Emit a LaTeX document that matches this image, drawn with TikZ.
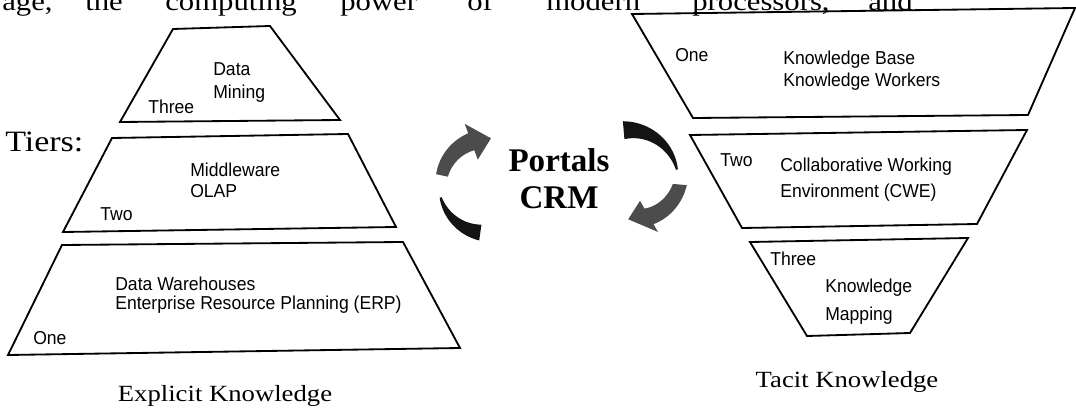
\documentclass[tikz,border=0pt]{standalone}
\usepackage{fontspec}
\setmainfont{Liberation Serif}
\setsansfont{Liberation Sans}
\newfontfamily\wideserif[FakeStretch=1.15]{Liberation Serif}
\newfontfamily\labelsans[FakeStretch=0.94]{Liberation Sans}
\usetikzlibrary{calc}
\tikzset{
  tier/.style={line width=1.3pt, line join=miter},
  lbl/.style={anchor=base west, inner sep=0pt, font=\labelsans\fontsize{13.3}{15}\selectfont},
  capt/.style={anchor=base, inner sep=0pt, font=\wideserif\fontsize{16.5}{19}\selectfont},
  bodytext/.style={anchor=base west, inner sep=0pt, font=\wideserif\fontsize{19}{22}\selectfont},
  tierstext/.style={anchor=base west, inner sep=0pt, font=\wideserif\fontsize{21}{24}\selectfont},
  portal/.style={anchor=base, inner sep=0pt, font=\bfseries\fontsize{23.5}{28}\selectfont},
  grayarrow/.style={fill=black!70},
  blackarrow/.style={fill=black!92},
}
\begin{document}
\begin{tikzpicture}[x=0.025cm, y=0.025cm]
\useasboundingbox (0,0) rectangle (1076,415);
\clip (0,0) rectangle (1076,415);

% cut-off line of page text at the top
\node[bodytext] (w1) at (2,404) {age,};
\node[bodytext] (w2) at (85,404) {the};
\node[bodytext] (w3) at (165,404) {computing};
\node[bodytext] (w4) at (340,404) {power};
\node[bodytext] (w5) at (467,404) {of};
\node[bodytext] (w6) at (546,404) {modern};
\node[bodytext] (w7) at (692,404) {processors,};
\node[bodytext] (w8) at (868,404) {and};

% ---- Explicit knowledge pyramid ----
\draw[tier] (173,386) -- (270,389) -- (340,295) -- (120,293) -- cycle;
\draw[tier] (112,277) -- (348,281) -- (396,188) -- (63,183) -- cycle;
\draw[tier] (62,170) -- (403,173) -- (460,67) -- (8,60) -- cycle;

\node[lbl] (l3a) at (213,339) {Data};
\node[lbl] (l3b) at (213,316) {Mining};
\node[lbl] (l3n) at (148,301) {Three};
\node[lbl] (l2a) at (190,238) {Middleware};
\node[lbl] (l2b) at (190,217) {OLAP};
\node[lbl] (l2n) at (100,195) {Two};
\node[lbl] (l1a) at (115,125) {Data Warehouses};
\node[lbl] (l1b) at (115,106) {Enterprise Resource Planning (ERP)};
\node[lbl] (l1n) at (33,71) {One};

\node[tierstext] (tiers) at (5,263) {Tiers:};
\node[capt] (explicit) at (225,14) {Explicit Knowledge};

% ---- Tacit knowledge pyramid ----
\draw[tier] (632,401) -- (1075,407) -- (1028,300) -- (693,297) -- cycle;
\draw[tier] (690,280) -- (1027,285) -- (977,191) -- (742,187) -- cycle;
\draw[tier] (750,173) -- (968,177) -- (910,82) -- (807,79) -- cycle;

\node[lbl] (r1n) at (675,353) {One};
\node[lbl] (r1a) at (783,350) {Knowledge Base};
\node[lbl] (r1b) at (783,328) {Knowledge Workers};
\node[lbl] (r2n) at (720,248) {Two};
\node[lbl] (r2a) at (780,243) {Collaborative Working};
\node[lbl] (r2b) at (780,218) {Environment (CWE)};
\node[lbl] (r3n) at (770,150) {Three};
\node[lbl] (r3a) at (825,123) {Knowledge};
\node[lbl] (r3b) at (825,95) {Mapping};

\node[capt] (tacit) at (847,28) {Tacit Knowledge};

% ---- Portals / CRM ----
\node[portal] (portals) at (559,243) {Portals};
\node[portal] (crm) at (559,207) {CRM};

% ---- circular arrows ----
\coordinate (CL) at (487,230);
\coordinate (CR) at (628,235);

% left upper (grey) arrow
\fill[grayarrow]
  plot[domain=168:110, samples=25, variable=\t]
    ({487+(55-3*(\t-110)/58)*cos(\t)}, {230+(55-3*(\t-110)/58)*sin(\t)})
  -- ($(CL)+(110:65)$) -- ($(CL)+(110:46)+(10:20)$) -- ($(CL)+(110:27)$)
  -- plot[domain=110:168, samples=25, variable=\t]
    ({487+(37+3*(\t-110)/58)*cos(\t)}, {230+(37+3*(\t-110)/58)*sin(\t)})
  -- cycle;

% left lower (black) crescent
\fill[blackarrow]
  plot[domain=195:262, samples=25, variable=\t]
    ({487+(48+1+7*(\t-195)/67)*cos(\t)}, {230+(48+1+7*(\t-195)/67)*sin(\t)})
  -- plot[domain=262:195, samples=25, variable=\t]
    ({487+(48-1-7*(\t-195)/67)*cos(\t)}, {230+(48-1-7*(\t-195)/67)*sin(\t)})
  -- cycle;

% right upper (black) crescent
\fill[blackarrow]
  plot[domain=95:12, samples=25, variable=\t]
    ({628+(50+1+8*(\t-12)/83)*cos(\t)}, {235+(50+1+8*(\t-12)/83)*sin(\t)})
  -- plot[domain=12:95, samples=25, variable=\t]
    ({628+(50-1-8*(\t-12)/83)*cos(\t)}, {235+(50-1-8*(\t-12)/83)*sin(\t)})
  -- cycle;

% right lower (grey) arrow
\fill[grayarrow]
  plot[domain=-5:-60, samples=25, variable=\t]
    ({628+(52-10*(-5-\t)/55+7+2*(-5-\t)/55)*cos(\t)}, {235+(52-10*(-5-\t)/55+7+2*(-5-\t)/55)*sin(\t)})
  -- ($(CR)+(-60:60)$) -- ($(CR)+(-60:42)+(-172:21)$) -- ($(CR)+(-60:24)$)
  -- plot[domain=-60:-5, samples=25, variable=\t]
    ({628+(52-10*(-5-\t)/55-7-2*(-5-\t)/55)*cos(\t)}, {235+(52-10*(-5-\t)/55-7-2*(-5-\t)/55)*sin(\t)})
  -- cycle;
\end{tikzpicture}
\end{document}
